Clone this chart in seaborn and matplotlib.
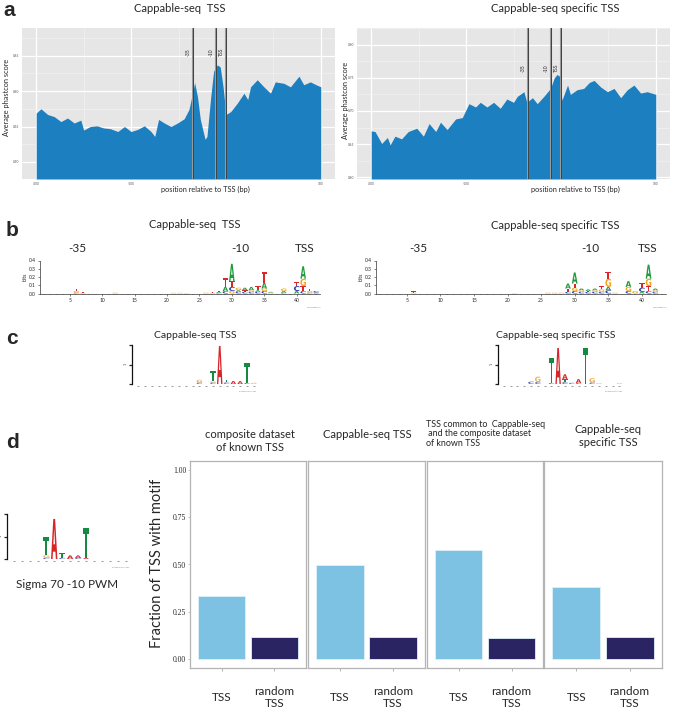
import numpy as np
import pandas as pd
import seaborn as sns
import matplotlib
matplotlib.use('Agg')
import matplotlib.pyplot as plt
from matplotlib.textpath import TextPath
from matplotlib.patches import PathPatch
from matplotlib.font_manager import FontProperties
import matplotlib.transforms as mtransforms

# ---------------- data ----------------
# a: average phastcon score around TSS
pos_all = [-200, -195, -188, -181, -174, -167, -160, -153, -150, -143, -136, -129, -122, -114,
           -107, -100, -93, -86, -79, -75, -71, -65, -58, -51, -44, -39, -36, -33, -30, -27,
           -22, -20, -16, -13, -9, -6, -3, 0, 5, 12, 19, 23, 26, 33, 40, 47, 52, 61, 68, 77,
           82, 89, 95, 100]
score_all = [0.569, 0.575, 0.567, 0.564, 0.557, 0.562, 0.555, 0.559, 0.545, 0.550, 0.551, 0.548,
             0.547, 0.543, 0.550, 0.543, 0.546, 0.551, 0.543, 0.536, 0.560, 0.555, 0.550, 0.555,
             0.561, 0.574, 0.592, 0.612, 0.592, 0.560, 0.532, 0.536, 0.592, 0.628, 0.637, 0.634,
             0.606, 0.567, 0.571, 0.583, 0.597, 0.588, 0.606, 0.616, 0.606, 0.597, 0.613, 0.611,
             0.606, 0.621, 0.609, 0.613, 0.609, 0.606]
pos_spec = [-200, -196, -189, -183, -180, -175, -168, -161, -152, -145, -139, -132, -127, -120,
            -111, -104, -97, -90, -85, -78, -71, -64, -57, -50, -46, -39, -36, -30, -25, -18,
            -11, -7, -4, -1, 1, 7, 10, 17, 24, 30, 35, 42, 49, 56, 63, 70, 77, 84, 91, 100]
score_spec = [0.670, 0.669, 0.651, 0.660, 0.649, 0.662, 0.658, 0.669, 0.674, 0.662, 0.681, 0.669,
              0.683, 0.672, 0.688, 0.690, 0.711, 0.706, 0.713, 0.706, 0.713, 0.704, 0.718, 0.713,
              0.722, 0.729, 0.713, 0.720, 0.711, 0.722, 0.734, 0.750, 0.755, 0.752, 0.716, 0.739,
              0.725, 0.732, 0.734, 0.743, 0.746, 0.736, 0.729, 0.734, 0.720, 0.732, 0.739, 0.727,
              0.729, 0.725]
motif_marks = [-35, -10, 0]
motif_labels = ['-35', '-10', 'TSS']

# b: sequence logos (position -> letters bottom to top, bits)
logo_b_all = {
    6: [('C', 0.01), ('G', 0.02), ('T', 0.025)], 7: [('G', 0.01), ('T', 0.01)],
    12: [('G', 0.01)], 21: [('G', 0.008)], 22: [('G', 0.008)], 23: [('G', 0.006)],
    26: [('G', 0.01)], 27: [('G', 0.01), ('T', 0.01)], 28: [('C', 0.01), ('A', 0.01), ('T', 0.015)],
    29: [('C', 0.03), ('A', 0.05), ('T', 0.11)], 30: [('G', 0.03), ('C', 0.05), ('T', 0.07), ('A', 0.21)],
    31: [('C', 0.02), ('A', 0.02), ('G', 0.03)], 32: [('C', 0.02), ('T', 0.02), ('A', 0.03)],
    33: [('C', 0.02), ('G', 0.02), ('A', 0.04)], 34: [('C', 0.02), ('A', 0.02), ('T', 0.05)],
    35: [('C', 0.03), ('G', 0.03), ('A', 0.07), ('T', 0.13)], 36: [('G', 0.01), ('A', 0.01)],
    38: [('C', 0.01), ('A', 0.02), ('G', 0.03)], 40: [('A', 0.03), ('C', 0.06), ('T', 0.05)],
    41: [('C', 0.03), ('T', 0.06), ('G', 0.09), ('A', 0.15)], 42: [('C', 0.01), ('G', 0.02), ('T', 0.03)],
    43: [('A', 0.01), ('C', 0.02)],
}
logo_b_spec = {
    6: [('G', 0.01), ('T', 0.015)], 21: [('G', 0.005)], 26: [('G', 0.01)], 27: [('G', 0.01)],
    28: [('G', 0.01)], 29: [('C', 0.02), ('T', 0.04), ('A', 0.06)],
    30: [('C', 0.03), ('G', 0.04), ('T', 0.05), ('A', 0.135)],
    31: [('C', 0.02), ('G', 0.02), ('A', 0.02)], 32: [('C', 0.02), ('T', 0.01), ('A', 0.02)],
    33: [('C', 0.02), ('G', 0.02), ('A', 0.02)], 34: [('C', 0.02), ('G', 0.03), ('T', 0.04)],
    35: [('C', 0.04), ('A', 0.04), ('G', 0.10), ('T', 0.08)], 36: [('G', 0.01)],
    38: [('C', 0.03), ('G', 0.05), ('A', 0.07)], 39: [('G', 0.03)],
    40: [('A', 0.02), ('C', 0.05), ('T', 0.055)], 41: [('C', 0.03), ('T', 0.06), ('G', 0.09), ('A', 0.17)],
    42: [('C', 0.02), ('G', 0.02), ('A', 0.02)],
}

# c/d: -10 motif logos (position -> letters bottom to top, bits)
logo_c_all = {
    9: [('C', 0.08), ('G', 0.14)], 11: [('C', 0.08), ('G', 0.05), ('T', 0.55)], 12: [('A', 1.95)],
    13: [('C', 0.08), ('T', 0.14)], 14: [('A', 0.15)], 15: [('A', 0.15)],
    16: [('C', 0.05), ('T', 1.05)], 17: [('G', 0.06)],
}
logo_c_spec = {
    4: [('C', 0.12)], 5: [('C', 0.1), ('G', 0.28)], 7: [('C', 0.05), ('T', 1.3)], 8: [('A', 1.85)],
    9: [('C', 0.1), ('T', 0.15), ('A', 0.25)], 10: [('C', 0.06)], 11: [('C', 0.05), ('A', 0.2)],
    12: [('T', 1.85)], 13: [('C', 0.08), ('G', 0.22)], 14: [('G', 0.04)], 17: [('G', 0.04)],
}
logo_sigma70 = {
    4: [('C', 0.06), ('G', 0.1), ('T', 0.82)], 5: [('A', 1.78)], 6: [('C', 0.05), ('T', 0.22)],
    7: [('A', 0.16)], 8: [('C', 0.04), ('A', 0.12)], 9: [('A', 0.05), ('T', 1.33)],
}

# d: fraction of TSS with motif
groups = ['composite', 'cappable', 'common', 'specific']
group_titles = ['composite dataset\nof known TSS', 'Cappable-seq TSS',
                'TSS common to  Cappable-seq\n and the composite dataset\nof known TSS',
                'Cappable-seq\nspecific TSS']
tss_types = ['TSS', 'random\nTSS']
frac_tss = [0.335, 0.496, 0.576, 0.381]
frac_random = [0.115, 0.113, 0.112, 0.117]

# ---------------- style ----------------
sns.set_theme(style='white')
plt.rcParams['font.family'] = ['Lato', 'DejaVu Sans']

W, H = 685, 708
fig = plt.figure(figsize=(W / 100, H / 100), dpi=100)


def px_axes(x0, y0, x1, y1):
    return fig.add_axes([x0 / W, 1 - y1 / H, (x1 - x0) / W, (y1 - y0) / H])


def px_text(x, y, s, **kw):
    fig.text(x / W, 1 - y / H, s, **kw)


letter_font = FontProperties(family='DejaVu Sans', weight='bold')


def draw_letter(ax, ch, x, y, w, h, color):
    tp = TextPath((0, 0), ch, size=1, prop=letter_font)
    bb = tp.get_extents()
    tr = mtransforms.Affine2D().translate(-bb.x0, -bb.y0).scale(w / bb.width, h / bb.height).translate(x - w / 2, y)
    ax.add_patch(PathPatch(tr.transform_path(tp), fc=color, ec='none'))


def draw_stacks(ax, stacks, colors, w):
    for p, stack in stacks.items():
        y = 0
        for ch, h in stack:
            draw_letter(ax, ch, p, y, w, h, colors[ch])
            y += h


# ---------------- panel a ----------------
def phast_panel(x0, x1, pos, score, ylim, yticks, lab_y):
    ax = px_axes(x0, 28, x1, 179)
    ax.set_facecolor('#e6e6e6')
    ax.set_xlim(-215, 115)
    ax.set_ylim(*ylim)
    ax.set_xticks([-200, -100, 0, 100])
    ax.set_xticklabels(['-200', '-100', '', '100'])
    ax.set_yticks(yticks)
    ax.set_xticks([-150, -50, 50], minor=True)
    ax.set_yticks([t + 0.025 for t in yticks], minor=True)
    ax.grid(True, which='major', color='white', lw=0.9)
    ax.grid(True, which='minor', color='#f2f2f2', lw=0.5)
    ax.set_axisbelow(True)
    ax.fill_between(pos, score, ylim[0], color='#1b7fc0', lw=0, zorder=2)
    for m, lab in zip(motif_marks, motif_labels):
        ax.axvline(m, color='#9a9a9a', lw=1.5, zorder=3)
        ax.axvline(m, color='#333333', lw=0.6, zorder=4)
        ax.text(m - 2.5, lab_y, lab, rotation=90, fontsize=3.6, ha='right', va='center', zorder=5)
    for s in ax.spines.values():
        s.set_visible(False)
    ax.set_yticklabels(['%.2f' % t for t in yticks])
    ax.tick_params(labelsize=2.3, length=1.2, width=0.4, color='#777', pad=1, labelcolor='#555')
    ax.tick_params(which='minor', length=0)
    return ax


phast_panel(22, 335, pos_all, score_all, (0.476, 0.689), [0.50, 0.55, 0.60, 0.65], 0.655)
phast_panel(357, 670, pos_spec, score_spec, (0.5975, 0.8055), [0.60, 0.65, 0.70, 0.75, 0.80], 0.765)

px_text(180, 8, 'Cappable-seq  TSS', fontsize=8, ha='center', va='center')
px_text(555, 8, 'Cappable-seq specific TSS', fontsize=8, ha='center', va='center')
px_text(205, 189, 'position relative to TSS (bp)', fontsize=5.3, ha='center', va='center')
px_text(575, 189, 'position relative to TSS (bp)', fontsize=5.3, ha='center', va='center')
px_text(7, 97, 'Average phastcon score', fontsize=5.3, rotation=90, ha='center', va='center')
px_text(345, 100, 'Average phastcon score', fontsize=5.3, rotation=90, ha='center', va='center')

# ---------------- panel b ----------------
colors_b = {'A': '#1f9a3c', 'C': '#2c3fb0', 'G': '#f3a51f', 'T': '#d8262a'}


def logo_b_panel(x0, x1, stacks):
    ax = px_axes(x0, 260.5, x1, 293.5)
    ax.set_xlim(0.4, 43.6)
    ax.set_ylim(0, 0.4)
    draw_stacks(ax, stacks, colors_b, 0.85)
    ax.set_xticks(range(5, 45, 5))
    ax.set_xticks(range(1, 44), minor=True)
    ax.set_yticks([0, 0.1, 0.2, 0.3, 0.4])
    ax.set_yticklabels(['%.1f' % t for t in [0, 0.1, 0.2, 0.3, 0.4]])
    ax.set_ylabel('bits', fontsize=3.8, labelpad=1)
    for s in ['top', 'right']:
        ax.spines[s].set_visible(False)
    for s in ['left', 'bottom']:
        ax.spines[s].set_linewidth(0.5)
        ax.spines[s].set_color('#333')
    ax.tick_params(labelsize=3.6, length=1.5, width=0.4, pad=1.5, direction='out',
                   bottom=True, left=True)
    ax.tick_params(which='minor', length=0.8, width=0.3, bottom=True)
    ax.text(43.6, -0.16, 'WebLogo 3.4', fontsize=1.6, ha='right', va='top', color='#777')
    return ax


logo_b_panel(40, 320, logo_b_all)
logo_b_panel(376, 666, logo_b_spec)

px_text(195, 224, 'Cappable-seq  TSS', fontsize=8, ha='center', va='center')
px_text(555, 225, 'Cappable-seq specific TSS', fontsize=8, ha='center', va='center')
for x, lab in zip([77, 240, 305, 418, 590, 648], ['-35', '-10', 'TSS'] * 2):
    px_text(x, 248, lab, fontsize=8.5, ha='center', va='center')

# ---------------- panels c / d logos ----------------
colors_c = {'A': '#d6262a', 'C': '#4a5aa8', 'G': '#f0b24a', 'T': '#168a43'}


def logo_small(x0, y0, y1, stacks, npos, step):
    xl = (-0.9, npos - 0.5)
    x1 = x0 + (xl[1] - xl[0]) * step
    ax = px_axes(x0, y0, x1, y1)
    ax.set_xlim(*xl)
    ax.set_ylim(0, 2)
    draw_stacks(ax, stacks, colors_c, 0.8)
    ax.scatter(range(npos), [-0.08] * npos, marker='_', s=1.2, lw=0.6, color='#888', clip_on=False)
    ax.set_xticks([])
    ax.set_yticks([0, 1, 2])
    ax.set_yticklabels(['', '1', ''])
    for s in ['top', 'right', 'bottom']:
        ax.spines[s].set_visible(False)
    ax.spines['left'].set_linewidth(0.9)
    ax.spines['left'].set_color('#111')
    ax.tick_params(axis='y', labelsize=2.5, length=2, width=0.9, pad=1, labelrotation=90,
                   left=True, direction='out')
    ax.text(xl[1], -0.35, 'weblogo.berkeley.edu', fontsize=1.4, ha='right', va='top', color='#888')
    return ax


logo_small(132, 345, 384, logo_c_all, 18, 6.8)
logo_small(497.6, 345, 384, logo_c_spec, 18, 6.8)
logo_small(7.3, 514, 559, logo_sigma70, 15, 7.95)

px_text(195, 335, 'Cappable-seq TSS', fontsize=7.5, ha='center', va='center')
px_text(556, 335, 'Cappable-seq specific TSS', fontsize=7.5, ha='center', va='center')
px_text(67, 585, 'Sigma 70 -10 PWM', fontsize=8.5, ha='center', va='center')

# ---------------- panel d bars ----------------
df = pd.DataFrame({
    'group': np.repeat(groups, 2),
    'type': tss_types * len(groups),
    'fraction': [v for pair in zip(frac_tss, frac_random) for v in pair],
})
bar_colors = {'TSS': '#7dc1e3', 'random\nTSS': '#2b2463'}
facet_x = [(190, 306), (307.7, 425), (426.7, 543.3), (544.3, 661.7)]

for i, (g, (xa, xb)) in enumerate(zip(groups, facet_x)):
    ax = px_axes(xa, 461, xb, 668)
    sns.barplot(data=df[df['group'] == g], x='type', y='fraction', hue='type',
                palette=bar_colors, width=0.9, legend=False, ax=ax, saturation=1,
                edgecolor='#dff0f8', linewidth=0.6)
    ax.set_xlim(-0.6, 1.6)
    ax.set_ylim(-0.05, 1.05)
    ax.set_xlabel('')
    ax.set_ylabel('')
    for s in ax.spines.values():
        s.set_visible(True)
        s.set_color('#b4b4b4')
        s.set_linewidth(0.9)
    ax.tick_params(axis='x', labelsize=8.5, length=2, width=0.5, color='#999', pad=19, bottom=True)
    for lab in ax.get_xticklabels():
        lab.set_va('center')
        lab.set_linespacing(1.1)
    if i == 0:
        ax.set_yticks([0, 0.25, 0.5, 0.75, 1.0])
        ax.set_yticklabels(['0.00', '0.25', '0.50', '0.75', '1.00'],
                           family=['Liberation Serif', 'DejaVu Serif'], fontsize=5.5)
        ax.tick_params(axis='y', length=1.2, width=0.4, color='#999', pad=1.5, left=True)
    else:
        ax.set_yticks([])

px_text(250, 441, group_titles[0], fontsize=8, ha='center', va='center', linespacing=1.2)
px_text(367, 435, group_titles[1], fontsize=8, ha='center', va='center')
px_text(426, 434, group_titles[2], fontsize=6.4, ha='left', va='center', linespacing=1.1)
px_text(608, 436, group_titles[3], fontsize=8, ha='center', va='center', linespacing=1.2)
px_text(157, 563, 'Fraction of TSS with motif', fontsize=10.5, rotation=90, ha='center', va='center')

# panel letters
for x, y, s in [(9, 10, 'a'), (12, 231, 'b'), (12, 338, 'c'), (12, 443, 'd')]:
    px_text(x, y, s, fontsize=15, fontweight='bold', ha='center', va='center',
            family=['Liberation Sans', 'DejaVu Sans'])

fig.savefig('out.png', dpi=100, facecolor='white')
